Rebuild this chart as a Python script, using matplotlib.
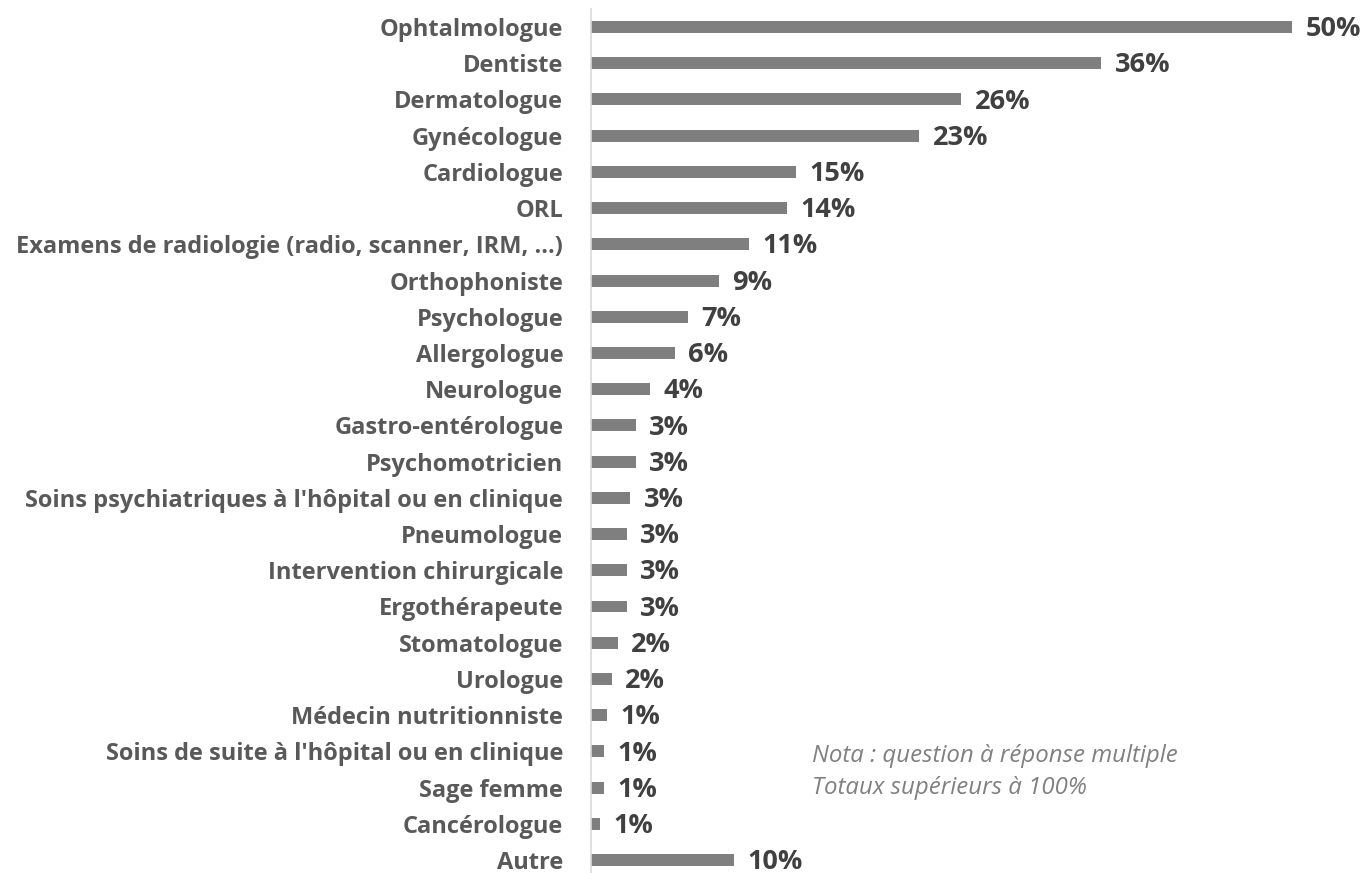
import numpy as np
import matplotlib.pyplot as plt

plt.rcParams['font.family'] = ['Open Sans', 'DejaVu Sans']

categories = ["Ophtalmologue", "Dentiste", "Dermatologue", "Gynécologue", "Cardiologue", "ORL",
              "Examens de radiologie (radio, scanner, IRM, ...)", "Orthophoniste", "Psychologue",
              "Allergologue", "Neurologue", "Gastro-entérologue", "Psychomotricien",
              "Soins psychiatriques à l'hôpital ou en clinique", "Pneumologue",
              "Intervention chirurgicale", "Ergothérapeute", "Stomatologue", "Urologue",
              "Médecin nutritionniste", "Soins de suite à l'hôpital ou en clinique",
              "Sage femme", "Cancérologue", "Autre"]
values = [50.0, 36.4, 26.4, 23.4, 14.6, 14.0, 11.3, 9.1, 6.9, 6.0, 4.2, 3.2, 3.2, 2.8,
          2.55, 2.55, 2.55, 1.9, 1.5, 1.15, 0.9, 0.9, 0.65, 10.2]
labels = ["50%", "36%", "26%", "23%", "15%", "14%", "11%", "9%", "7%", "6%", "4%", "3%", "3%",
          "3%", "3%", "3%", "3%", "2%", "2%", "1%", "1%", "1%", "1%", "10%"]

fig = plt.figure(figsize=(13.65, 8.73), dpi=100)
ax = fig.add_axes([591 / 1365, (873 - 872.7) / 873, 774 / 1365, (872.7 - 8.9) / 873])

y = np.arange(len(categories))
ax.barh(y, values, height=0.33, color='#7f7f7f')
ax.set_ylim(23.35, -0.5)
ax.set_xlim(0, 55.2)

for yi, v, lab in zip(y, values, labels):
    ax.text(v + 0.95, yi + 0.06, lab, va='center', ha='left', fontsize=19.5,
            fontweight='bold', color='#404040')

ax.set_yticks(y)
ax.set_yticklabels(categories, fontsize=17, fontweight='bold', color='#595959')
ax.tick_params(axis='y', length=0, pad=20)
ax.set_xticks([])
for s in ['top', 'right', 'bottom']:
    ax.spines[s].set_visible(False)
ax.spines['left'].set_color('#d9d9d9')
ax.spines['left'].set_linewidth(1.2)

fig.text(812 / 1365, 1 - 772 / 873, "Nota : question à réponse multiple\nTotaux supérieurs à 100%",
         ha='left', va='center', fontsize=17.3, style='italic', color='#808080',
         linespacing=1.42)

fig.savefig('out.png', dpi=100)
